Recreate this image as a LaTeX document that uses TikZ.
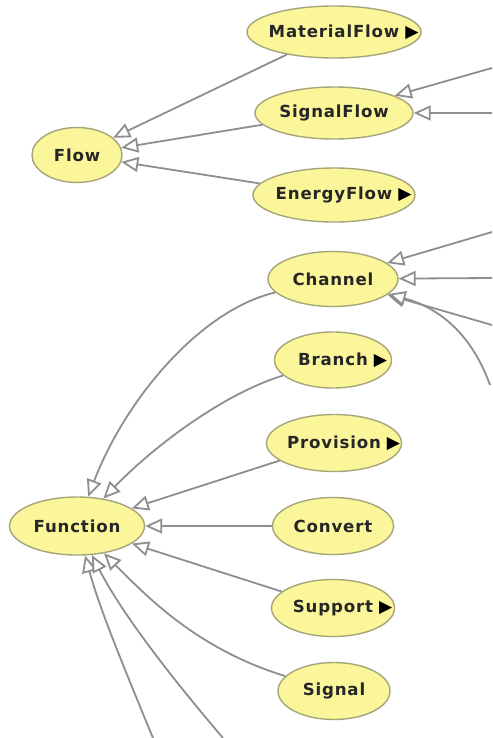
\documentclass[tikz,border=0pt]{standalone}
\usepackage{fontspec}
\setmainfont{DejaVu Sans}[LetterSpace=5]
\newfontfamily\markfont{DejaVu Sans}
\usetikzlibrary{shapes.geometric,arrows.meta}
\definecolor{nodefill}{HTML}{FBF69A}
\definecolor{nodeline}{HTML}{A5A57A}
\definecolor{edgegray}{HTML}{8E8E8E}
\definecolor{labeltext}{HTML}{262626}
% marker for classes that have further subclasses (set after the centred name)
\newcommand{\more}{\rlap{\hspace{3pt}\raisebox{-0.2pt}{\markfont\fontsize{8.6}{6}\selectfont\color{black}▶}}}
% label of zero width, so the ellipse keeps its given size
\newcommand{\lbl}[1]{\makebox[0pt]{#1}}

\begin{document}
\begin{tikzpicture}[x=0.5pt,y=-0.5pt,
  cls/.style={ellipse, draw=nodeline, line width=0.7pt, fill=nodefill,
    inner sep=0pt, text=labeltext, font=\fontsize{8.3}{10}\selectfont\bfseries},
  isa/.style={draw=edgegray, line width=0.9pt,
    -{Triangle[length=8.5pt,width=7.5pt,fill=white]}}]
\useasboundingbox (0,0) rectangle (492,738);
\fill[white] (0,0) rectangle (492,738);

% classes
\node[cls, minimum width=45pt,   minimum height=27.5pt] (flow) at (77,155) {\lbl{Flow}};
\node[cls, minimum width=87pt,   minimum height=26pt]   (mat)  at (334,32) {\lbl{MaterialFlow\more}};
\node[cls, minimum width=79pt,   minimum height=26pt]   (sig)  at (334,113) {\lbl{SignalFlow}};
\node[cls, minimum width=81pt,   minimum height=27pt]   (ene)  at (334,195) {\lbl{EnergyFlow\more}};
\node[cls, minimum width=65pt,   minimum height=27.5pt] (chan) at (333,279) {\lbl{Channel}};
\node[cls, minimum width=58.5pt, minimum height=28pt]   (bra)  at (333,360) {\lbl{Branch\more}};
\node[cls, minimum width=67.5pt, minimum height=28.5pt] (prov) at (334,443) {\lbl{Provision\more}};
\node[cls, minimum width=60.5pt, minimum height=28.5pt] (conv) at (333,526) {\lbl{Convert}};
\node[cls, minimum width=61.5pt, minimum height=28.5pt] (supp) at (333,608) {\lbl{Support\more}};
\node[cls, minimum width=56pt,   minimum height=28.5pt] (sgnl) at (334,691) {\lbl{Signal}};
\node[cls, minimum width=67.5pt, minimum height=29pt]   (func) at (77,526) {\lbl{Function}};

% loose ends of edges leaving the visible area
\coordinate (s1) at (492,68);
\coordinate (s2) at (492,113);
\coordinate (c1) at (492,232);
\coordinate (c2) at (492,278);
\coordinate (c3) at (492,325);
\coordinate (c4) at (490,385);
\coordinate (f1) at (153,738);
\coordinate (f2) at (223,738);

% subclass relations
\draw[isa] (mat) -- (flow);
\draw[isa] (sig) -- (flow);
\draw[isa] (ene) -- (flow);

\draw[isa] (s1) -- (sig);
\draw[isa] (s2) -- (sig);

\draw[isa] (c1) -- (chan);
\draw[isa] (c2) -- (chan);
\draw[isa] (c3) -- (chan);
\draw[isa] (c4) .. controls (472,335) and (440,308) .. (chan);

\draw[isa] (chan) .. controls (200,310) and (125,400) .. (func);
\draw[isa] (bra) .. controls (220,395) and (150,450) .. (func);
\draw[isa] (prov) -- (func);
\draw[isa] (conv) -- (func);
\draw[isa] (supp) -- (func);
\draw[isa] (sgnl) .. controls (200,650) and (150,600) .. (func);
\draw[isa] (f1) .. controls (125,670) and (100,610) .. (func);
\draw[isa] (f2) .. controls (165,670) and (120,610) .. (func);
\end{tikzpicture}
\end{document}
